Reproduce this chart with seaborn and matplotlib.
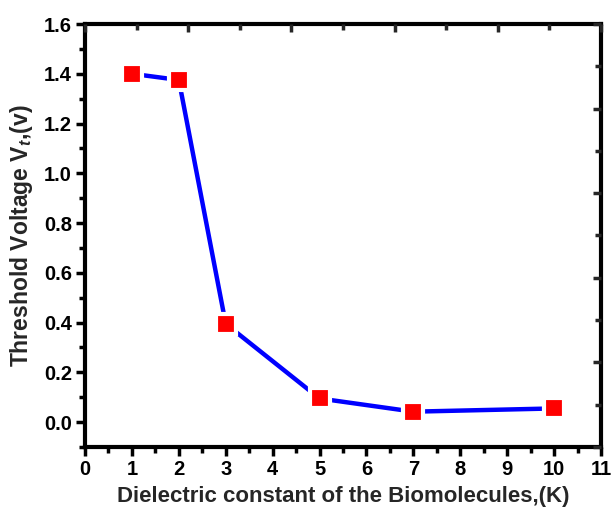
import matplotlib
matplotlib.use("Agg")
import matplotlib.pyplot as plt
import seaborn as sns
import pandas as pd
from matplotlib.ticker import MultipleLocator, NullFormatter

k_values = [1, 2, 3, 5, 7, 10]
vt_values = [1.40, 1.375, 0.395, 0.095, 0.042, 0.055]

df = pd.DataFrame({"K": k_values, "Vt": vt_values})

sns.set_style("white")
plt.rcParams["font.family"] = ["Liberation Sans", "DejaVu Sans"]
plt.rcParams["font.weight"] = "bold"
plt.rcParams["mathtext.fontset"] = "custom"
plt.rcParams["mathtext.rm"] = "Liberation Sans:bold"
plt.rcParams["mathtext.bf"] = "Liberation Sans:bold"
plt.rcParams["mathtext.it"] = "Liberation Sans:bold:italic"

fig = plt.figure(figsize=(6.14, 5.12), dpi=100)
ax = fig.add_axes([85/614, 1 - 447/512, (601-85)/614, (447-24)/512])

sns.lineplot(data=df, x="K", y="Vt", ax=ax, color="#0000ff", linewidth=3.2,
             marker="s", markersize=14.5, markerfacecolor="#ff0000",
             markeredgecolor="white", markeredgewidth=3)
for line in ax.lines:
    line.set_zorder(3)

ax.set_xlim(0, 11)
ax.set_ylim(-0.1, 1.6)
ax.xaxis.set_major_locator(MultipleLocator(1))
ax.xaxis.set_minor_locator(MultipleLocator(0.5))
ax.yaxis.set_major_locator(MultipleLocator(0.2))
ax.yaxis.set_minor_locator(MultipleLocator(0.1))
ax.yaxis.set_major_formatter(plt.FuncFormatter(lambda v, p: f"{v:.1f}"))

ax.tick_params(which="both", direction="out", top=False, right=False,
               width=2.5, labelsize=14.5, colors="black", pad=3)
ax.tick_params(which="major", length=6.5)
ax.tick_params(which="minor", length=4)
for lbl in ax.get_xticklabels() + ax.get_yticklabels():
    lbl.set_fontweight("bold")

for s in ax.spines.values():
    s.set_linewidth(3)
    s.set_color("black")

ax.set_xlabel("Dielectric constant of the Biomolecules,(K)", fontsize=16,
              fontweight="bold", labelpad=5)
ax.set_ylabel(r"Threshold Voltage V$_{t}$,(v)", fontsize=16.5,
              fontweight="bold", labelpad=6)

# top and right axes with inward ticks (independent scale)
axt = ax.twiny()
axt.set_xlim(0, 10)
axt.xaxis.set_major_locator(MultipleLocator(2))
axt.xaxis.set_minor_locator(MultipleLocator(1))
axt.xaxis.set_major_formatter(NullFormatter())
axt.tick_params(which="both", direction="in", width=2.5, top=True, bottom=False)
axt.tick_params(which="major", length=6)
axt.tick_params(which="minor", length=4)
for s in axt.spines.values():
    s.set_visible(False)

axr = ax.twinx()
axr.set_ylim(0, 10)
axr.yaxis.set_major_locator(MultipleLocator(2))
axr.yaxis.set_minor_locator(MultipleLocator(1))
axr.yaxis.set_major_formatter(NullFormatter())
axr.tick_params(which="both", direction="in", width=2.5, right=True, left=False)
axr.tick_params(which="major", length=6)
axr.tick_params(which="minor", length=4)
for s in axr.spines.values():
    s.set_visible(False)

fig.savefig("out.png", dpi=100)
